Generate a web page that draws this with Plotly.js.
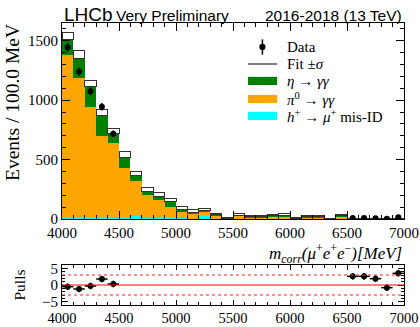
<!DOCTYPE html>
<html><head><meta charset="utf-8">
<script src="https://cdn.plot.ly/plotly-3.0.1.min.js"></script>
<style>html,body{margin:0;padding:0;background:#fff}#c{width:420px;height:327px}</style>
</head><body><div id="c"></div>
<script>
// bin centres (MeV), 100 MeV bins from 4000 to 7000
const binCenters = [4050,4150,4250,4350,4450,4550,4650,4750,4850,4950,
                    5050,5150,5250,5350,5450,5550,5650,5750,5850,5950,
                    6050,6150,6250,6350,6450,6550,6650,6750,6850,6950];
const misID   = [20,20,18,18,18,18,22,12,15,18, 5,3,30,2,0,0,0,0,0,0, 0,0,0,0,0,0,0,0,0,0];
const pi0     = [1360,1165,928,682,620,412,298,190,145,86, 57,40,30,25,2,22,12,12,16,20, 0,10,10,0,15,1,1,1,1,1];
const eta     = [130,170,170,175,84,90,42,28,28,42, 20,12,8,8,6,10,8,8,10,12, 3,8,8,1,13,1,1,1,1,1];
const sigma   = [60,60,50,43,42,50,37,37,34,28, 22,25,20,15,6,16,11,11,14,16, 8,10,10,1,14,2,2,2,2,2];
// data (signal region blinded)
const dataX   = [4050,4150,4250,4350,4450,6550,6650,6750,6850,6950];
const dataY   = [1445,1240,1075,945,718,9,8,6,2,14];
const dataErr = [38,35,33,31,27,3,2.8,2.4,1.4,3.7];
const pulls   = [-0.5,-1.2,-0.3,1.8,0.3,2.6,2.6,1.9,-0.8,3.5];

const serif = 'Liberation Serif, Times New Roman, serif';
const sans = 'Liberation Sans, Arial, sans-serif';

const barCommon = {type:'bar', x:binCenters, width:100, showlegend:false, hoverinfo:'skip'};
const traces = [
  Object.assign({}, barCommon, {y:misID, marker:{color:'#00ffff', line:{width:0}}, name:'h+ -> mu+ mis-ID'}),
  Object.assign({}, barCommon, {y:pi0, marker:{color:'#ffa500', line:{width:0}}, name:'pi0 -> gg'}),
  Object.assign({}, barCommon, {y:eta, marker:{color:'#008000', line:{width:0}}, name:'eta -> gg'}),
  Object.assign({}, barCommon, {y:sigma, marker:{color:'#ffffff', line:{width:1, color:'#333333'}}, name:'Fit'}),
  {type:'scatter', mode:'markers', x:dataX, y:dataY, showlegend:false,
   marker:{color:'black', size:6, symbol:'circle'},
   error_y:{type:'data', array:dataErr, visible:true, color:'black', thickness:1.5, width:0}},
  {type:'scatter', mode:'markers', x:dataX, y:pulls, xaxis:'x2', yaxis:'y2', showlegend:false,
   marker:{color:'black', size:6},
   error_y:{type:'constant', value:1, color:'black', thickness:1.5, width:0},
   error_x:{type:'constant', value:50, color:'black', thickness:1.5, width:0}}
];

const axisCommon = {showline:true, linecolor:'black', linewidth:1, mirror:'allticks',
  ticks:'inside', ticklen:8, tickcolor:'black', showgrid:false, zeroline:false,
  tickfont:{family:serif, size:15, color:'black'}};

const topBottom = 0.305, pullTop = 0.1418;
const layout = {
  width:420, height:327, margin:{l:62, r:16, t:23, b:22},
  paper_bgcolor:'white', plot_bgcolor:'white',
  barmode:'stack', bargap:0, showlegend:false,
  xaxis: Object.assign({}, axisCommon, {domain:[0,1], range:[4000,7000], dtick:500, anchor:'y',
     minor:{dtick:100, ticklen:4, ticks:'inside', tickcolor:'black'}}),
  yaxis: Object.assign({}, axisCommon, {domain:[topBottom,1], range:[0,1650], dtick:500, anchor:'x',
     minor:{dtick:100, ticklen:4, ticks:'inside', tickcolor:'black'}}),
  xaxis2: Object.assign({}, axisCommon, {domain:[0,1], range:[4000,7000], dtick:500, anchor:'y2',
     ticklen:5, tickfont:{family:serif, size:14.5, color:'black'},
     minor:{dtick:100, ticklen:3, ticks:'inside', tickcolor:'black'}}),
  yaxis2: Object.assign({}, axisCommon, {domain:[0,pullTop], range:[-6,6], tickvals:[-5,0,5], ticktext:['−5','0','5'], anchor:'x2',
     ticklen:6, minor:{dtick:1, ticklen:3, ticks:'inside', tickcolor:'black'}}),
  shapes:[
    {type:'line', xref:'x2 domain', yref:'y2', x0:0, x1:1, y0:0, y1:0, line:{color:'red', width:1}},
    {type:'line', xref:'x2 domain', yref:'y2', x0:0, x1:1, y0:3, y1:3, line:{color:'#ff2020', width:1, dash:'dot'}},
    {type:'line', xref:'x2 domain', yref:'y2', x0:0, x1:1, y0:-3, y1:-3, line:{color:'#ff2020', width:1, dash:'dot'}},
    // legend symbols
    {type:'line', xref:'paper', yref:'paper', x0:0.586, x1:0.586, y0:0.942, y1:0.888, line:{color:'black', width:1.5}},
    {type:'line', xref:'paper', yref:'paper', x0:0.544, x1:0.629, y0:0.8546, y1:0.8546, line:{color:'#808080', width:2}},
    {type:'rect', xref:'paper', yref:'paper', x0:0.544, x1:0.629, y0:0.809, y1:0.780, fillcolor:'#008000', line:{width:0}},
    {type:'rect', xref:'paper', yref:'paper', x0:0.544, x1:0.629, y0:0.745, y1:0.716, fillcolor:'#ffa500', line:{width:0}},
    {type:'rect', xref:'paper', yref:'paper', x0:0.544, x1:0.629, y0:0.685, y1:0.656, fillcolor:'#00ffff', line:{width:0}},
    {type:'circle', xref:'paper', yref:'paper', x0:0.577, x1:0.595, y0:0.904, y1:0.926, fillcolor:'black', line:{width:0}}
  ],
  annotations:[
    {text:'LHCb', xref:'paper', yref:'paper', x:0, y:1, xanchor:'left', yanchor:'bottom', yshift:-4, showarrow:false, font:{family:sans, size:19, color:'black'}},
    {text:'Very Preliminary', xref:'paper', yref:'paper', x:0.151, y:1, xanchor:'left', yanchor:'bottom', yshift:-3, showarrow:false, font:{family:sans, size:15.5, color:'black'}},
    {text:'2016-2018 (13 TeV)', xref:'paper', yref:'paper', x:1, y:1, xanchor:'right', yanchor:'bottom', yshift:-3, showarrow:false, font:{family:sans, size:15.5, color:'black'}},
    {text:'<i>m</i><sub><i>corr</i></sub><i>(μ</i><sup>+</sup><i>e</i><sup>+</sup><i>e</i><sup>−</sup><i>)[MeV]</i>', xref:'paper', yref:'paper', x:1, y:topBottom, xanchor:'right', yanchor:'top', yshift:-20, showarrow:false, font:{family:serif, size:17, color:'black'}},
    {text:'Events / 100.0 MeV', xref:'paper', yref:'paper', x:0, y:1, xanchor:'right', yanchor:'top', xshift:-37, yshift:1, textangle:-90, showarrow:false, font:{family:serif, size:19.5, color:'black'}},
    {text:'Pulls', xref:'paper', yref:'paper', x:0, y:pullTop/2, xanchor:'right', yanchor:'middle', xshift:-32, textangle:-90, showarrow:false, font:{family:serif, size:15.5, color:'black'}},
    {text:'Data', xref:'paper', yref:'paper', x:0.652, y:0.915, xanchor:'left', yanchor:'middle', showarrow:false, font:{family:serif, size:15, color:'black'}},
    {text:'Fit ±<i>σ</i>', xref:'paper', yref:'paper', x:0.652, y:0.8546, xanchor:'left', yanchor:'middle', showarrow:false, font:{family:serif, size:15, color:'black'}},
    {text:'<i>η</i> → <i>γγ</i>', xref:'paper', yref:'paper', x:0.652, y:0.7943, xanchor:'left', yanchor:'middle', showarrow:false, font:{family:serif, size:15, color:'black'}},
    {text:'<i>π</i><sup>0</sup> → <i>γγ</i>', xref:'paper', yref:'paper', x:0.652, y:0.7305, xanchor:'left', yanchor:'middle', showarrow:false, font:{family:serif, size:15, color:'black'}},
    {text:'<i>h</i><sup>+</sup> → <i>μ</i><sup>+</sup> mis-ID', xref:'paper', yref:'paper', x:0.652, y:0.6702, xanchor:'left', yanchor:'middle', showarrow:false, font:{family:serif, size:15, color:'black'}}
  ]
};

Plotly.newPlot('c', traces, layout, {displayModeBar:false, staticPlot:true});
</script></body></html>
